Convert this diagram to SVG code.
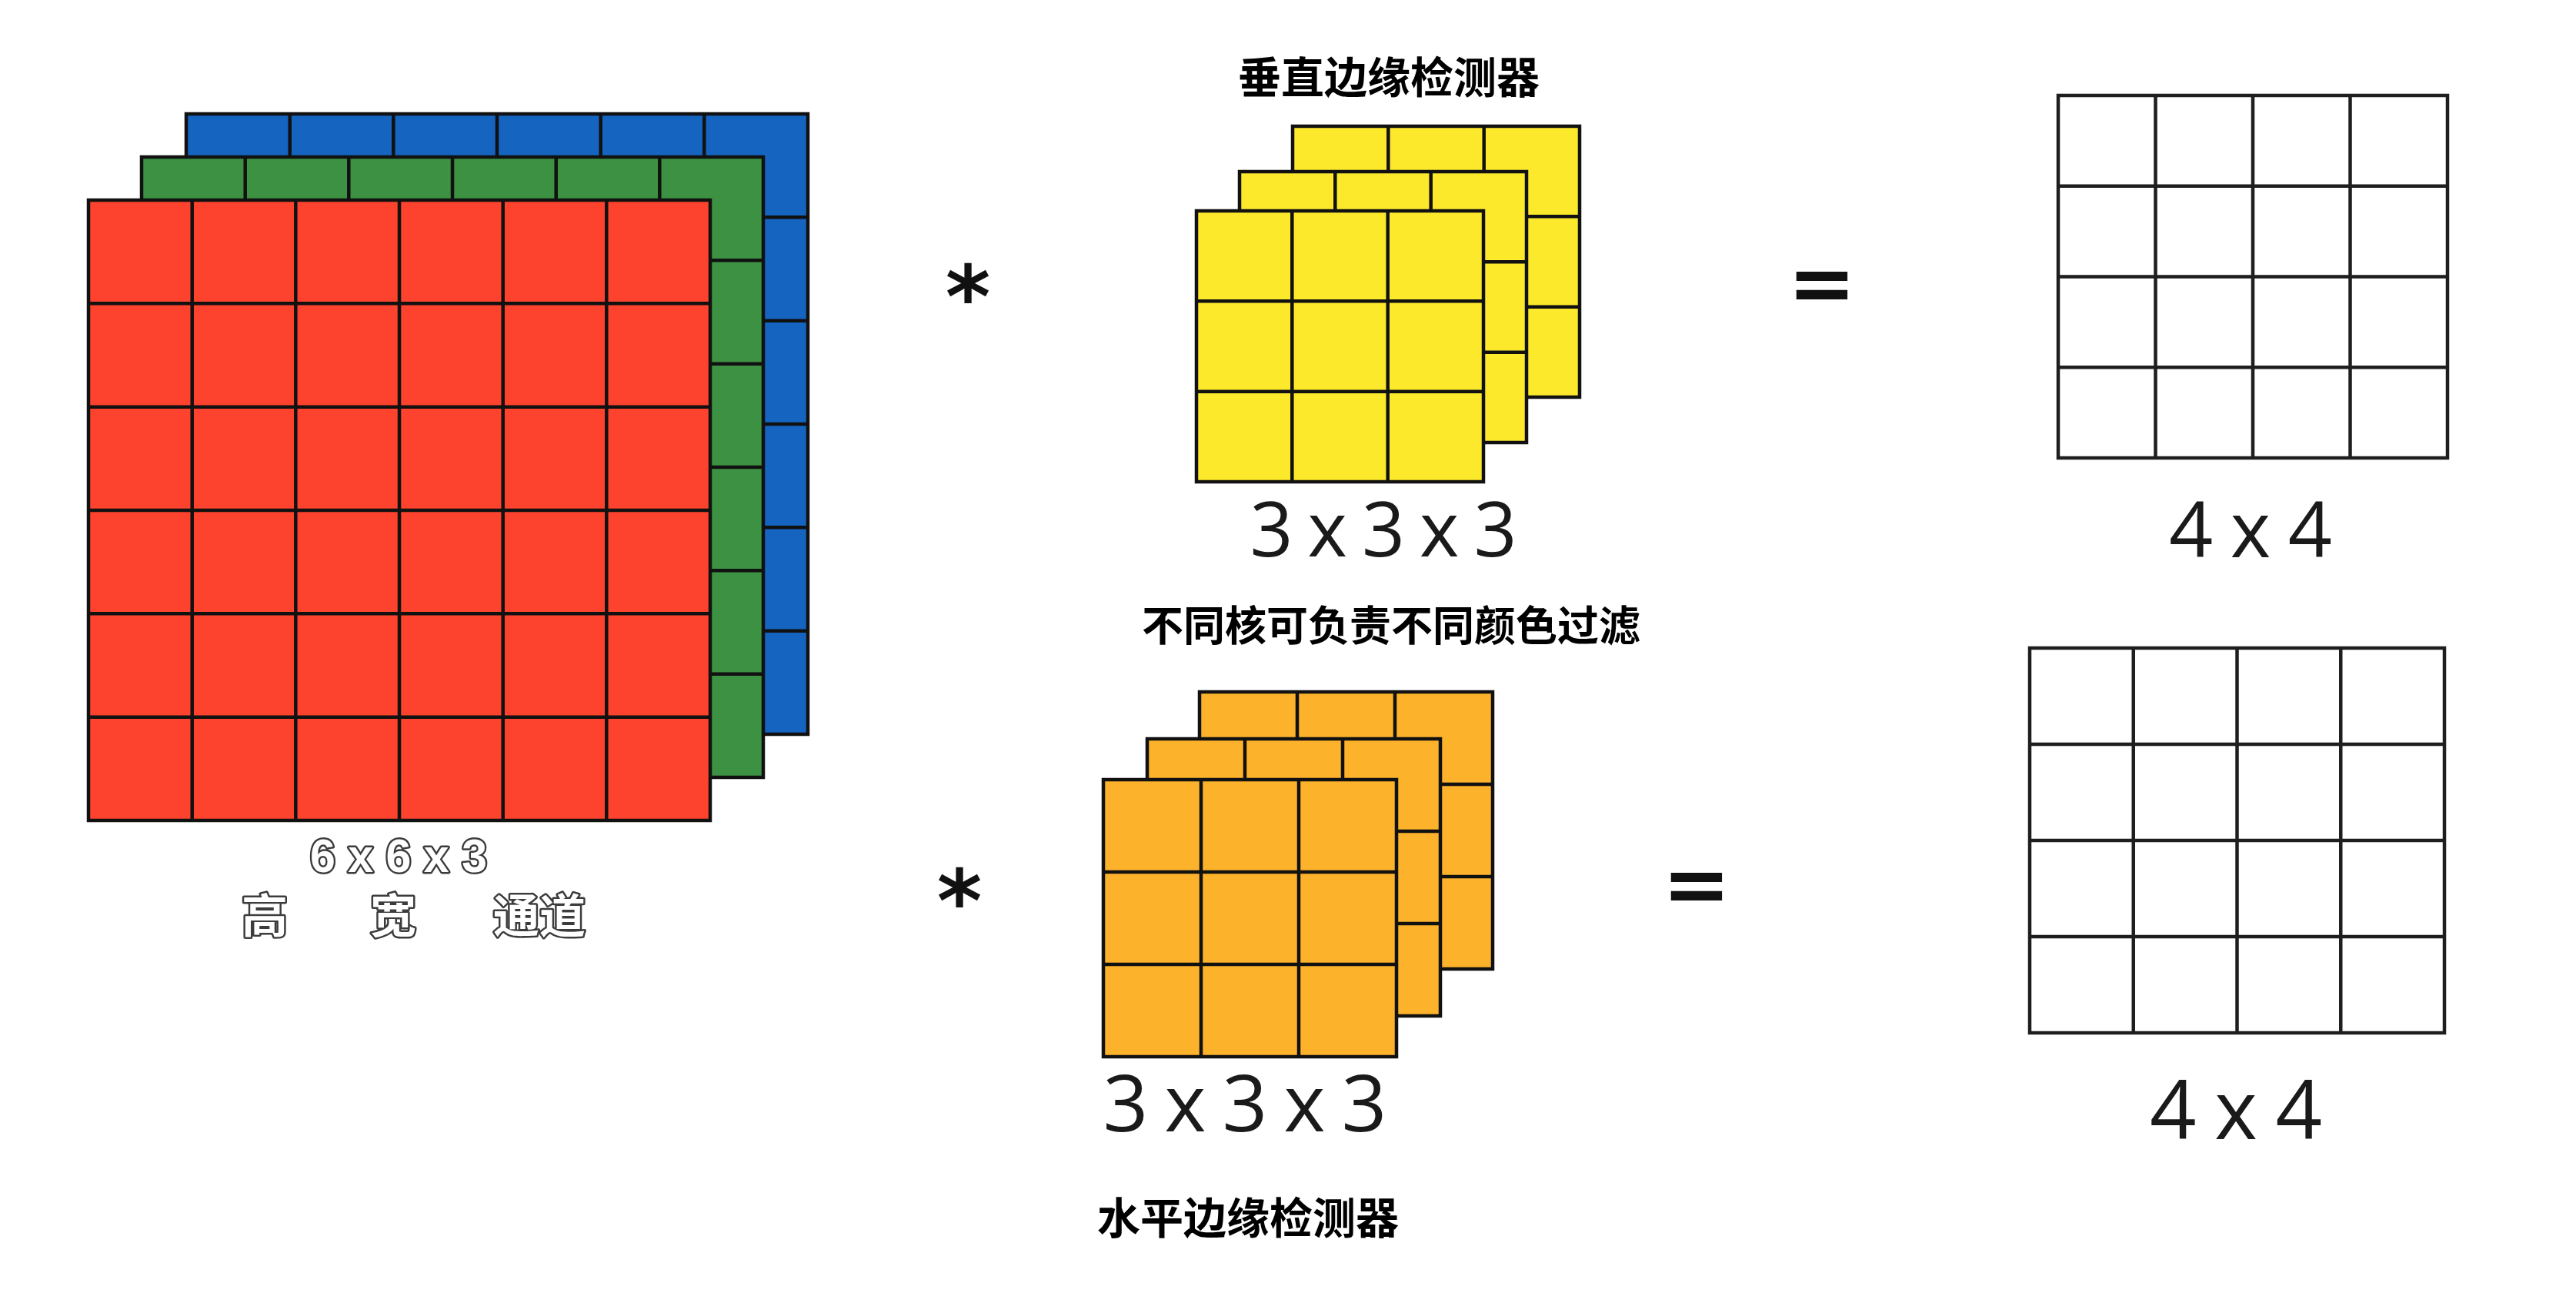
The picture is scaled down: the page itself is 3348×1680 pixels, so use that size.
<svg xmlns="http://www.w3.org/2000/svg" xmlns:xlink="http://www.w3.org/1999/xlink" width="3348" height="1680" viewBox="0 0 3348 1680">
<style>
.grid{stroke:#111;stroke-width:4.5;stroke-linejoin:miter}
.ogrid{fill:#fff;stroke:#1e1e1e;stroke-width:4.5}
.cjk{font-family:"Noto Sans CJK SC","Noto Sans",sans-serif;font-weight:700;fill:#000}
.num{font-family:"Open Sans","Liberation Sans",sans-serif;font-weight:400;fill:#1a1a1a}
.hollow{font-weight:700;fill:#fff;stroke:#3c3c3c;stroke-width:5;stroke-linejoin:round;paint-order:stroke}
.hcjk{font-family:"Noto Sans CJK SC","Noto Sans",sans-serif}
.hnum{font-family:"Liberation Sans","DejaVu Sans",sans-serif}
.op{font-family:"DejaVu Sans",sans-serif;font-weight:700;fill:#111}
</style>
<defs>
<g id="g6" class="grid">
<rect x="0" y="0" width="808" height="806"/>
<path fill="none" d="M134.7 0V806M269.3 0V806M404 0V806M538.7 0V806M673.3 0V806M0 134.3H808M0 268.7H808M0 403H808M0 537.3H808M0 671.7H808"/>
</g>
<g id="gy" class="grid">
<rect x="0" y="0" width="373" height="352"/>
<path fill="none" d="M124.3 0V352M248.7 0V352M0 117.3H373M0 234.7H373"/>
</g>
<g id="go" class="grid">
<rect x="0" y="0" width="381" height="360"/>
<path fill="none" d="M127 0V360M254 0V360M0 120H381M0 240H381"/>
</g>
</defs>
<rect width="3348" height="1680" fill="#fff"/>

<g id="input-volume">
<use xlink:href="#g6" x="242" y="148" fill="#1565C0"/>
<use xlink:href="#g6" x="184" y="204" fill="#3C9142"/>
<use xlink:href="#g6" x="115" y="260" fill="#FD432D"/>
<text class="hollow hnum" x="518" y="1133" font-size="62" text-anchor="middle" textLength="230" lengthAdjust="spacingAndGlyphs">6 x 6 x 3</text>
<text class="hollow hcjk" x="344" y="1212" font-size="60" text-anchor="middle">高</text>
<text class="hollow hcjk" x="511" y="1212" font-size="60" text-anchor="middle">宽</text>
<text class="hollow hcjk" x="701" y="1212" font-size="60" text-anchor="middle">通道</text>
</g>

<g id="filter-vertical">
<text class="cjk" x="1805" y="121" font-size="56" text-anchor="middle">垂直边缘检测器</text>
<use xlink:href="#gy" x="1680" y="164" fill="#FDE92C"/>
<use xlink:href="#gy" x="1611" y="223" fill="#FDE92C"/>
<use xlink:href="#gy" x="1555" y="274" fill="#FDE92C"/>
<text class="num" x="1798" y="723" font-size="98" text-anchor="middle" textLength="347" lengthAdjust="spacing">3 x 3 x 3</text>
</g>

<text id="note" class="cjk" x="1808" y="833" font-size="54" text-anchor="middle">不同核可负责不同颜色过滤</text>

<g id="filter-horizontal">
<use xlink:href="#go" x="1559" y="899" fill="#FDB22B"/>
<use xlink:href="#go" x="1491" y="960" fill="#FDB22B"/>
<use xlink:href="#go" x="1434" y="1013" fill="#FDB22B"/>
<text class="num" x="1618" y="1470" font-size="103" text-anchor="middle" textLength="369" lengthAdjust="spacing">3 x 3 x 3</text>
<text class="cjk" x="1622" y="1603" font-size="56" text-anchor="middle">水平边缘检测器</text>
</g>

<g id="output-top">
<rect class="ogrid" x="2675" y="124" width="506" height="471"/>
<path class="ogrid" fill="none" d="M2801.5 124V595M2928 124V595M3054.5 124V595M2675 241.75H3181M2675 359.5H3181M2675 477.25H3181"/>
<text class="num" x="2925" y="724" font-size="100" text-anchor="middle" textLength="212" lengthAdjust="spacing">4 x 4</text>
</g>

<g id="output-bottom">
<rect class="ogrid" x="2638" y="842" width="539" height="500"/>
<path class="ogrid" fill="none" d="M2772.75 842V1342M2907.5 842V1342M3042.25 842V1342M2638 967H3177M2638 1092H3177M2638 1217H3177"/>
<text class="num" x="2906" y="1480" font-size="106" text-anchor="middle" textLength="224" lengthAdjust="spacing">4 x 4</text>
</g>

<g id="connectors">
<text class="op" x="1258" y="425" font-size="112" text-anchor="middle">*</text>
<text class="op" x="2368" y="404" font-size="106" text-anchor="middle">=</text>
<text class="op" x="1247" y="1210" font-size="112" text-anchor="middle">*</text>
<text class="op" x="2205" y="1185" font-size="106" text-anchor="middle">=</text>
</g>
</svg>
